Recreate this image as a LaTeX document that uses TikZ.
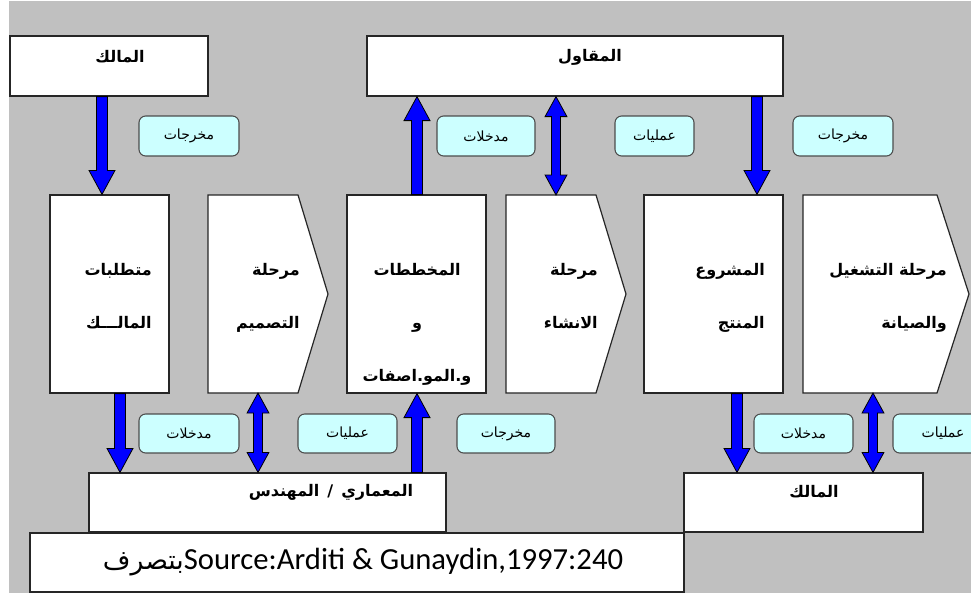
\documentclass[tikz,border=0pt]{standalone}
\usepackage{fontspec}
\setmainfont{Carlito}
\newfontfamily\arabicfont[Script=Arabic]{DejaVu Sans}
\TeXXeTstate=1
\usetikzlibrary{fit,calc}

\definecolor{bggray}{HTML}{C0C0C0}
\definecolor{tagcyan}{HTML}{CCFFFF}
\definecolor{arrowblue}{HTML}{0000FF}

\tikzset{
  box/.style={draw=black!85, fill=white, line width=0.9pt, inner sep=0pt},
  tag/.style={draw=black!70, fill=tagcyan, rounded corners=5pt, line width=0.8pt, inner sep=0pt},
  tagtext/.style={font=\arabicfont\fontsize{10.5}{12}\selectfont, inner sep=0pt},
  head/.style={font=\arabicfont\bfseries\fontsize{12}{14}\selectfont, inner sep=0pt},
  coltext/.style={font=\arabicfont\bfseries\fontsize{12}{39.75}\selectfont, inner sep=0pt, align=right},
  fat/.style={fill=arrowblue, draw=black, line width=0.6pt, line join=miter},
}

% block arrow: #1 from, #2 to, #3 x position
\newcommand{\fatarrow}[3]{%
  \filldraw[fat] let \p1=(#1 -| #3,0), \p2=(#2 -| #3,0), \n1={(\y2-\y1)/abs(\y2-\y1)*18pt} in
    (\x1-4.1pt,\y1) -- (\x1-4.1pt,{\y2-\n1}) -- (\x1-9.75pt,{\y2-\n1}) -- (\x2,\y2)
    -- (\x1+9.75pt,{\y2-\n1}) -- (\x1+4.1pt,{\y2-\n1}) -- (\x1+4.1pt,\y1) -- cycle;}
% block arrow with two heads
\newcommand{\fatdarrow}[3]{%
  \filldraw[fat] let \p1=(#1 -| #3,0), \p2=(#2 -| #3,0), \n1={(\y2-\y1)/abs(\y2-\y1)*15pt} in
    (\x1,\y1) -- (\x1+8.2pt,{\y1+\n1}) -- (\x1+3.4pt,{\y1+\n1}) -- (\x1+3.4pt,{\y2-\n1})
    -- (\x1+8.2pt,{\y2-\n1}) -- (\x2,\y2) -- (\x1-8.2pt,{\y2-\n1}) -- (\x1-3.4pt,{\y2-\n1})
    -- (\x1-3.4pt,{\y1+\n1}) -- (\x1-8.2pt,{\y1+\n1}) -- cycle;}
% tag box with its word
\newcommand{\tagbox}[4]{%
  \node[tag, fit={#2 #3}] (#1) {};
  \node[tagtext] (#1-t) at (#1) {\beginR #4\endR};}

\begin{document}
\begin{tikzpicture}[x=0.75pt,y=-0.75pt]
\useasboundingbox (0,0) rectangle (971,593);
\clip (0,0) rectangle (971,593);
\fill[white] (0,0) rectangle (971,593);
\fill[bggray] (9,1) rectangle (971,593);

% top row
\node[box, fit={(10,36) (208,96)}] (ownTop) {};
\node[head] (ownTop-t) at (120,57) {\beginR المالك\endR};
\node[box, fit={(367,36) (783,96)}] (contr) {};
\node[head] (contr-t) at (590,57) {\beginR المقاول\endR};

% stages
\node[box, fit={(50,195) (169,393)}] (req) {};
\node[coltext, anchor=north east] (req-t) at (152,263) {\beginR متطلبات\endR\\\beginR المالـــك\endR};

\draw[box] (208,195) -- (298,195) -- (328,294) -- (298,393) -- (208,393) coordinate (des-sw) -- cycle;
\node[coltext, anchor=north east] (des-t) at (300,263) {\beginR مرحلة\endR\\\beginR التصميم\endR};

\node[box, fit={(347,195) (486,393)}] (plans) {};
\node[coltext, align=center, anchor=north] (plans-t) at (417,263)
  {\beginR المخططات\endR\\\beginR و\endR\\\beginR و.المو.اصفات\endR};

\draw[box] (506,195) coordinate (con-nw) -- (596,195) -- (626,294) -- (596,393) -- (506,393) -- cycle;
\node[coltext, anchor=north east] (con-t) at (598,263) {\beginR مرحلة\endR\\\beginR الانشاء\endR};

\node[box, fit={(644,195) (783,393)}] (proj) {};
\node[coltext, anchor=north east] (proj-t) at (765,263) {\beginR المشروع\endR\\\beginR المنتج\endR};

\draw[box] (803,195) -- (937,195) -- (969,294) -- (937,393) -- (803,393) coordinate (op-sw) -- cycle;
\node[coltext, anchor=north east] (op-t) at (947,263) {\beginR مرحلة التشغيل\endR\\\beginR والصيانة\endR};

% bottom row
\node[box, fit={(89,473) (446,532)}] (eng) {};
\node[head] (eng-t) at (331,492) {\beginR المعماري\enspace/\enspace المهندس\endR};
\node[box, fit={(30,533) (684,592)}] (src) {};
\node[font=\fontsize{23}{26}\selectfont, inner sep=0pt] (src-t) at (363,562)
  {\beginR\beginL Source:Arditi \& Gunaydin,1997:240\endL{\arabicfont\fontsize{20}{24}\selectfont بتصرف}\endR};
\node[box, fit={(684,473) (923,532)}] (ownBot) {};
\node[head] (ownBot-t) at (814,492) {\beginR المالك\endR};

% tags
\tagbox{tagA}{(139,116)}{(239,156)}{مخرجات}
\tagbox{tagB}{(437,116)}{(535,156)}{مدخلات}
\tagbox{tagC}{(615,116)}{(694,156)}{عمليات}
\tagbox{tagD}{(793,116)}{(893,156)}{مخرجات}
\tagbox{tagE}{(139,414)}{(239,453)}{مدخلات}
\tagbox{tagF}{(298,414)}{(397,453)}{عمليات}
\tagbox{tagG}{(457,414)}{(555,453)}{مخرجات}
\tagbox{tagH}{(754,414)}{(853,453)}{مدخلات}
\tagbox{tagI}{(893,414)}{(993,453)}{عمليات}

% arrows
\fatarrow{ownTop.south}{req.north}{102}
\fatarrow{plans.north}{contr.south}{417}
\fatdarrow{contr.south}{con-nw}{556}
\fatarrow{contr.south}{proj.north}{757}
\fatarrow{req.south}{eng.north}{120}
\fatdarrow{des-sw}{eng.north}{258}
\fatarrow{eng.north}{plans.south}{417}
\fatarrow{proj.south}{ownBot.north}{737}
\fatdarrow{op-sw}{ownBot.north}{873}
\end{tikzpicture}
\end{document}
